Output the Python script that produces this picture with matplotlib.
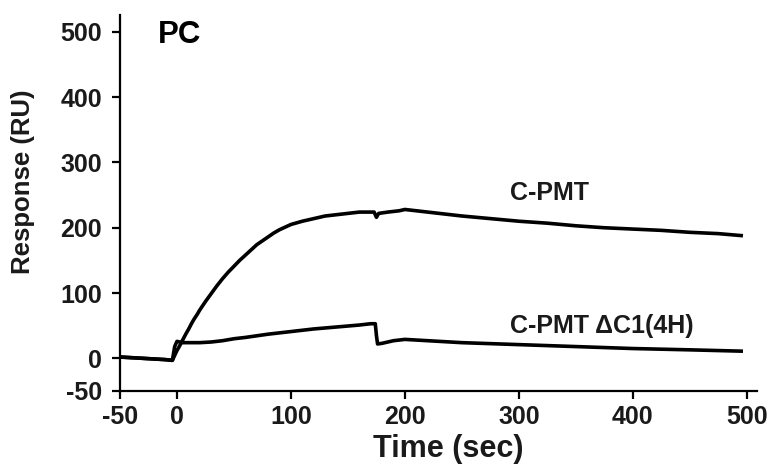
import matplotlib
matplotlib.use("Agg")
import matplotlib.pyplot as plt

plt.rcParams['font.family'] = ['Liberation Sans', 'DejaVu Sans']
plt.rcParams['axes.unicode_minus'] = False

# C-PMT sensorgram
t_cpmt = [-50, -40, -30, -20, -10, -5, -4, 0, 2, 5, 8, 10, 13, 15, 18, 20, 25, 30, 35, 40, 45,
          50, 55, 60, 65, 70, 75, 80, 85, 90, 95, 100, 110, 120, 130, 140, 150, 160, 170,
          173, 175, 177, 185, 195, 200, 210, 230, 250, 275, 300, 325, 350, 375, 400, 425,
          450, 475, 495]
r_cpmt = [2, 1, 0, -1, -2, -3, -3, 12, 18, 28, 38, 44, 54, 60, 68, 74, 87, 99, 111, 122, 132,
          141, 150, 158, 166, 174, 180, 186, 192, 197, 201, 205, 210, 214, 218, 220, 222,
          224, 224, 224, 216, 222, 224, 226, 228, 226, 222, 218, 214, 210, 207, 203, 200,
          198, 196, 193, 191, 188]

# C-PMT dC1(4H) sensorgram
t_dc1 = [-50, -40, -30, -20, -10, -5, -4, -2, 0, 5, 10, 20, 30, 40, 50, 60, 80, 100, 120,
         140, 160, 170, 174, 175, 176, 180, 190, 200, 210, 250, 300, 350, 400, 450, 495]
r_dc1 = [2, 1, 0, -1, -2, -3, -3, 18, 26, 24, 24, 24, 25, 27, 30, 32, 37, 41, 45,
         48, 51, 53, 53, 35, 22, 23, 27, 29, 28, 24, 21, 18, 15, 13, 11]

x_ticks = [-50, 0, 100, 200, 300, 400, 500]
y_ticks = [-50, 0, 100, 200, 300, 400, 500]

fig = plt.figure(figsize=(7.71, 4.66), dpi=100)
ax = fig.add_axes([0.1556, 0.161, 0.8264, 0.807])

ax.plot(t_cpmt, r_cpmt, color='black', lw=2.6, solid_joinstyle='round')
ax.plot(t_dc1, r_dc1, color='black', lw=2.6, solid_joinstyle='round')

ax.set_xlim(-50, 509)
ax.set_ylim(-50, 526)
ax.set_xticks(x_ticks)
ax.set_yticks(y_ticks)
for s in ['top', 'right']:
    ax.spines[s].set_visible(False)
for s in ['left', 'bottom']:
    ax.spines[s].set_linewidth(1.6)
ax.tick_params(direction='out', length=6, width=1.6, labelsize=18)
ax.tick_params(axis='y', pad=7)
ax.tick_params(axis='x', pad=4)
for lab in ax.get_xticklabels() + ax.get_yticklabels():
    lab.set_fontweight('bold')
    lab.set_color('#1a1a1a')

ax.set_xlabel('Time (sec)', fontsize=22, fontweight='bold', color='#1a1a1a')
ax.xaxis.set_label_coords(0.515, -0.114)
ax.set_ylabel('Response (RU)', fontsize=18.5, fontweight='bold', color='#1a1a1a')
ax.yaxis.set_label_coords(-0.133, 0.556)

ax.text(-17, 495, 'PC', fontsize=22.5, fontweight='bold', ha='left', va='center', color='black')
ax.text(292, 253, 'C-PMT', fontsize=18, fontweight='bold', ha='left', va='center', color='#1a1a1a')
ax.text(292, 50, 'C-PMT \u0394C1(4H)', fontsize=18, fontweight='bold', ha='left', va='center', color='#1a1a1a')

fig.savefig('out.png', dpi=100)
